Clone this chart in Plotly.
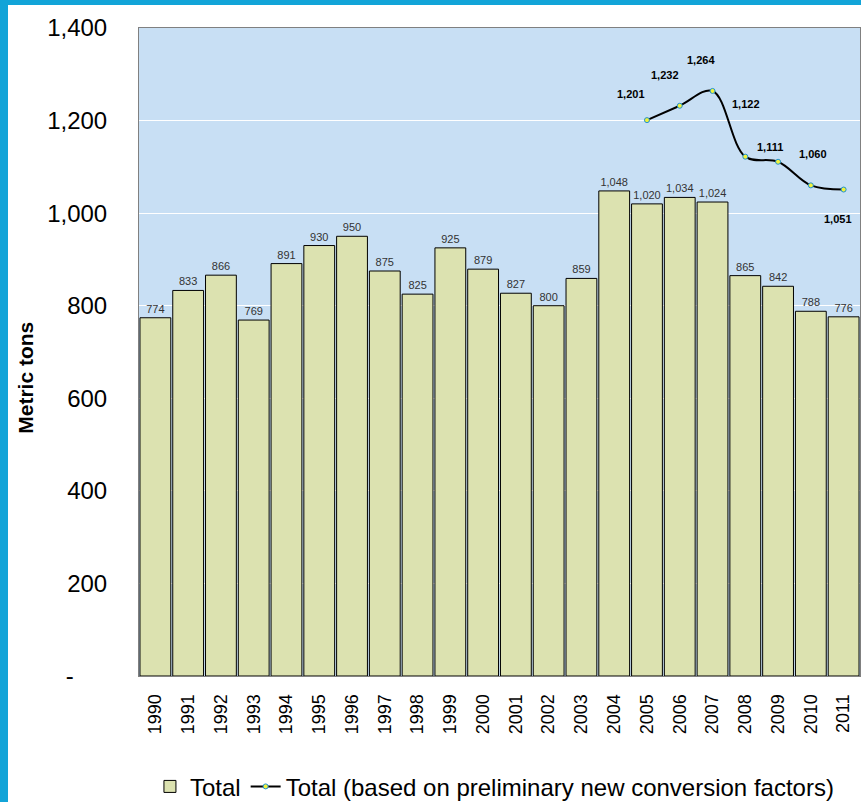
import plotly.graph_objects as go

years = [str(y) for y in range(1990, 2012)]
totals = [774, 833, 866, 769, 891, 930, 950, 875, 825, 925, 879, 827, 800, 859,
          1048, 1020, 1034, 1024, 865, 842, 788, 776]
new_years = [str(y) for y in range(2005, 2012)]
new_totals = [1201, 1232, 1264, 1122, 1111, 1060, 1051]
y_tickvals = [0, 200, 400, 600, 800, 1000, 1200, 1400]
y_ticktext = ["-" + "\u00a0" * 5, "200", "400", "600", "800", "1,000", "1,200", "1,400"]

# label offsets (pixels) for the line's data labels
lbl_dx = [-16, -15, -12, 1, -8, 2, -6]
lbl_dy = [26, 31, 31, 53, 15, 31, -29]

FONT = "Arial, Liberation Sans, sans-serif"

fig = go.Figure()
fig.add_trace(go.Bar(
    x=years, y=totals, name="Total",
    marker=dict(color="#dce2b0", line=dict(color="#000000", width=1)),
    text=[f"{v:,}" for v in totals], textposition="outside",
    textfont=dict(size=11, color="#333333", family=FONT),
    cliponaxis=False,
))
fig.add_trace(go.Scatter(
    x=new_years, y=new_totals, name="Total (based on preliminary new conversion factors)",
    mode="lines+markers",
    line=dict(color="#000000", width=2, shape="spline", smoothing=1.0),
    marker=dict(size=5, color="#f2f23c", line=dict(color="#1e90d0", width=1)),
))

for xv, yv, dx, dy in zip(new_years, new_totals, lbl_dx, lbl_dy):
    fig.add_annotation(x=years.index(xv), y=yv, text=f"<b>{yv:,}</b>", showarrow=False,
                       xshift=dx, yshift=dy,
                       font=dict(size=11, color="#000000", family=FONT))

# y-axis title
fig.add_annotation(xref="paper", yref="paper", x=-0.157, y=0.46, xanchor="center",
                   yanchor="middle", text="<b>Metric tons</b>",
                   showarrow=False, textangle=-90,
                   font=dict(size=21, color="#000000", family=FONT))

# blue frame bands
W = 721.0
H = 648.0
fig.add_shape(type="rect", xref="paper", yref="paper",
              x0=-139 / W, x1=(8 - 139) / W, y0=(676 - 802) / H, y1=676 / H,
              fillcolor="#12a4d8", line=dict(width=0), layer="above")
fig.add_shape(type="rect", xref="paper", yref="paper",
              x0=-139 / W, x1=(861 - 139) / W, y0=(676 - 5) / H, y1=676 / H,
              fillcolor="#12a4d8", line=dict(width=0), layer="above")

fig.update_layout(
    width=861, height=802,
    margin=dict(l=139, r=1, t=28, b=126, autoexpand=False),
    paper_bgcolor="#ffffff", plot_bgcolor="#c8dff4",
    bargap=0.06,
    font=dict(family=FONT, color="#000000"),
    showlegend=True,
    legend=dict(orientation="h", x=0.493, xanchor="center", y=-0.171, yanchor="middle",
                font=dict(size=24, color="#000000"), itemwidth=30, tracegroupgap=0),
    xaxis=dict(type="category", range=[-0.5, len(years) - 0.5], automargin=False,
               tickangle=-90, tickfont=dict(size=18, color="#000000"),
               showline=True, linecolor="#808080", linewidth=1, mirror=True,
               ticks="", ticklabelstandoff=10, showgrid=False),
    yaxis=dict(range=[0, 1400], tickvals=y_tickvals, ticktext=y_ticktext, automargin=False,
               tickfont=dict(size=24, color="#000000"),
               showgrid=True, gridcolor="#ffffff", gridwidth=1,
               showline=True, linecolor="#808080", linewidth=1, mirror=True,
               ticks="", ticklabelstandoff=26, zeroline=False),
)

fig.write_html("out.html")
